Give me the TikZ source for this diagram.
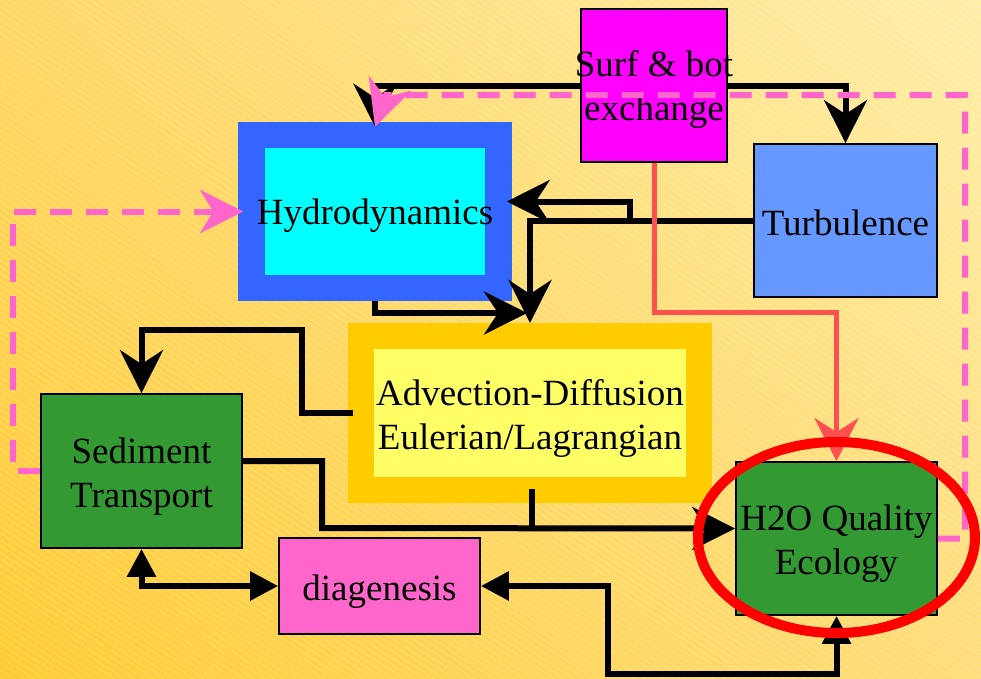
\documentclass[tikz,border=0pt]{standalone}
\usepackage{fontspec}
\setmainfont{Liberation Serif}
\usetikzlibrary{arrows.meta,shapes.geometric,calc,shadings}
\definecolor{bgBL}{HTML}{FFCC33}
\definecolor{bgTR}{HTML}{FFEEA8}
\definecolor{bgTL}{HTML}{FFD766}
\definecolor{bgBR}{HTML}{FFDD7A}
\definecolor{surfc}{HTML}{FF00FF}
\definecolor{hblue}{HTML}{3366FF}
\definecolor{cyanc}{HTML}{00FFFF}
\definecolor{turbc}{HTML}{6699FF}
\definecolor{goldc}{HTML}{FFCC00}
\definecolor{lyel}{HTML}{FFFF66}
\definecolor{greenc}{HTML}{339933}
\definecolor{diagc}{HTML}{FF66CC}
\definecolor{pinkc}{HTML}{FF66CC}
\definecolor{salmonc}{HTML}{FF5050}
\definecolor{redc}{HTML}{FF0000}
\begin{document}
\begin{tikzpicture}[x=1pt,y=-1pt,
  txt/.style={inner sep=0pt,font=\fontsize{37}{44}\selectfont,align=center},
  box/.style={inner sep=0pt,draw=black,line width=1.8pt},
  blk/.style={draw=black,line width=6pt},
  salm/.style={draw=salmonc,line width=5pt},
  pinkd/.style={draw=pinkc,line width=6pt,dash pattern=on 22pt off 14pt},
  bigst/.style={-{Stealth[length=43pt,width=43pt,inset=14pt]}},
  pst/.style={-{Stealth[length=43pt,width=43pt,inset=13pt]}},
  pst2/.style={-{Stealth[length=46pt,width=45pt,inset=15pt]}},
  dbl/.style={{Triangle[length=28pt,width=28pt]}-{Triangle[length=28pt,width=28pt]}}
]
\useasboundingbox (0,0) rectangle (981,678);
\shade[upper left=bgTL, upper right=bgTR, lower left=bgBL, lower right=bgBR] (0,0) rectangle (981,678);
\begin{scope}
  \clip (0,0) rectangle (981,678);
  \foreach \i in {-110,...,98} \draw[white,opacity=0.3,line width=0.6pt] (\i*10,0) -- ++(1100,715);
\end{scope}

% boxes
\node[box,fill=surfc,minimum width=146pt,minimum height=153pt] (surf) at (654,85.5) {};
\node[inner sep=0pt,draw=hblue,line width=26.5pt,fill=cyanc,minimum width=247pt,minimum height=153pt] (hydro) at (375,211.5) {};
\node[box,fill=turbc,minimum width=183pt,minimum height=153pt] (turb) at (845.5,220.5) {};
\node[inner sep=0pt,draw=goldc,line width=26pt,fill=lyel,minimum width=338pt,minimum height=154pt] (adv) at (530,413) {};
\node[box,fill=greenc,minimum width=201pt,minimum height=154pt] (sed) at (141.5,471) {};
\node[box,fill=diagc,minimum width=201pt,minimum height=96pt] (diag) at (379.5,586) {};
\node[box,fill=greenc,minimum width=201pt,minimum height=153pt] (h2o) at (836.5,538.5) {};

% texts
\node[txt] (surftxt) at ($(surf)+(0,4)$) {Surf \& bot\\exchange};
\node[txt] (hydrotxt) at ($(hydro)+(0,4)$) {Hydrodynamics};
\node[txt] (turbtxt) at ($(turb)+(0,2)$) {Turbulence};
\node[txt] (advtxt) at ($(adv)+(0,5)$) {Advection-Diffusion\\Eulerian/Lagrangian};
\node[txt] (sedtxt) at ($(sed)+(0,6)$) {Sediment\\Transport};
\node[txt] (diagtxt) at ($(diag)+(0,6)$) {diagenesis};
\node[txt] (h2otxt) at ($(h2o)+(0,5)$) {H2O Quality\\Ecology};

% junctions
\coordinate (j1) at (630,220.5);
\coordinate (j2) at (302,330);
\coordinate (j3) at (322,528);
\coordinate (j4) at (608,674);
\coordinate (j5) at (836.5,312);
\coordinate (j6) at (13,471);
\coordinate (j8) at (965,95);
\coordinate (j9) at (386,95);

% black connectors
\draw[blk,bigst] (surf.west) -| ($(hydro.north)+(0,5)$);
\draw[blk,bigst] (surf.east) -| (turb.north);
\draw[blk,bigst] (turb.west) -| (adv.north);
\draw[blk,bigst] (j1) |- ($(hydro.east)+(-5,-10)$);
\draw[blk,bigst] (hydro.south) |- ($(adv.north)+(-3,-10)$);
\draw[blk,bigst] ($(adv.west)+(5,0)$) -| (j2) -| (sed.north);
\draw[blk] ($(adv.south)+(2,-14)$) -- ($(adv.south)+(2,25)$);
\draw[blk,bigst] ($(sed.east)+(0,-10)$) -| (j3) -- ($(h2o.west)+(0,-10)$);
\draw[blk,dbl] (sed.south) |- (diag.west);
\draw[blk,dbl] (diag.east) -| (j4) -| (h2o.south);

% salmon connector
\draw[salm,-{Stealth[length=43pt,width=44pt,inset=14pt]}] (surf.south) |- (j5) -- (h2o.north);

% pink dashed
\draw[pinkd,pst] (sed.west) -- (j6) |- ($(hydro.west)+(5,0)$);
\draw[pinkd,pst2] (h2o.east) -| (j8) -- (j9) -- ($(hydro.north)+(0,5)$);

% red ring
\node[ellipse,draw=redc,line width=10pt,minimum width=277pt,minimum height=191pt,inner sep=0pt] (ring) at (836.5,537.5) {};
\end{tikzpicture}
\end{document}
